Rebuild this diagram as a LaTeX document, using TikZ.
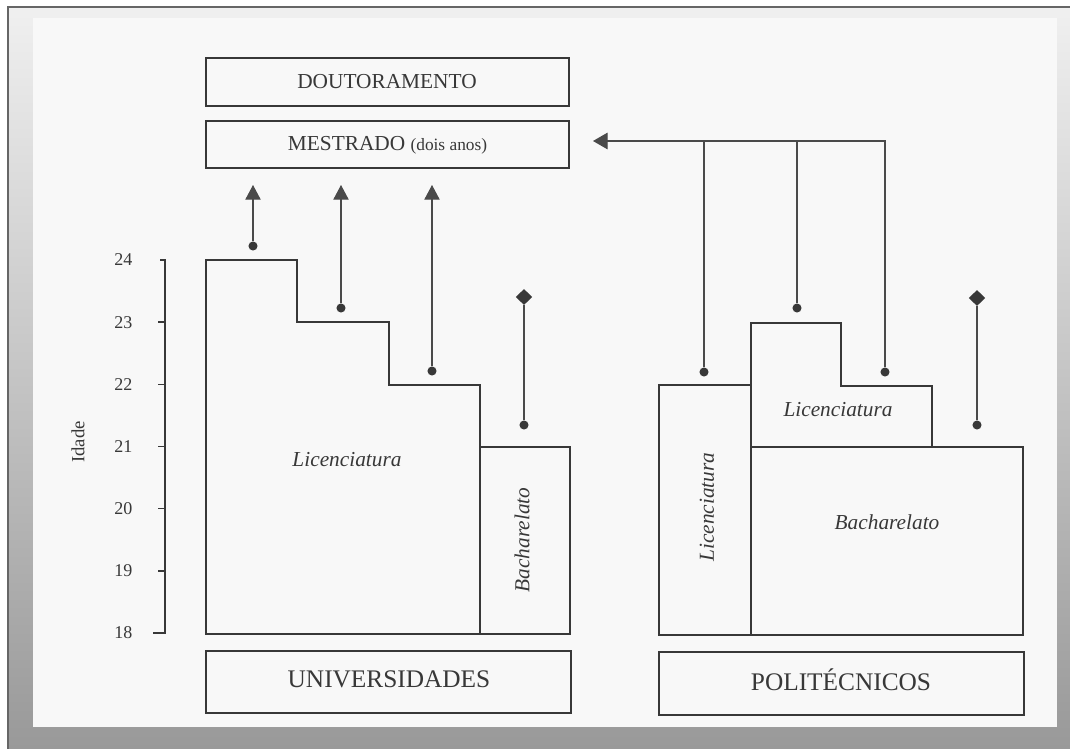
\documentclass[tikz,border=0pt]{standalone}
\usepackage{fontspec}
\setmainfont{Liberation Serif}
\usetikzlibrary{arrows.meta,shapes.geometric}

\definecolor{ink}{HTML}{383838}
\definecolor{wire}{HTML}{4A4A4A}
\definecolor{paper}{HTML}{F8F8F8}
\definecolor{rim}{HTML}{666666}

\tikzset{
  boxline/.style={draw=ink, line width=1.4pt, line join=miter},
  conn/.style={draw=wire, line width=0.8pt},
  uparrow/.style={conn, -{Triangle[width=11.5pt,length=11pt]}},
  dot/.style={circle, fill=ink, inner sep=0pt, minimum size=6.8pt},
  gem/.style={diamond, fill=ink, inner sep=0pt, minimum width=12.5pt, minimum height=12pt},
  caps/.style={text=ink, font=\fontsize{16}{18}\selectfont},
  bigcaps/.style={text=ink, font=\fontsize{19}{22}\selectfont},
  course/.style={text=ink, font=\fontsize{16}{18}\selectfont\itshape},
  agelabel/.style={text=ink, font=\fontsize{13.5}{15}\selectfont, anchor=east},
}

\begin{document}
\begin{tikzpicture}[x=0.75pt,y=-0.75pt]
\useasboundingbox (0,0) rectangle (1070,749);

% surround: white margin, grey gradient and a dark rim on top and left
\fill[white] (0,0) rectangle (1070,749);
\shade[top color=white!94!black, bottom color=black!40] (8,7) rectangle (1070,749);
\draw[rim, line width=1.5pt] (8,749) -- (8,7) -- (1070,7);
\fill[paper] (33,18) rectangle (1057,727);

% upper boxes
\draw[boxline] (206,58) rectangle (569,106);
\node[caps] (dout) at (387,82) {DOUTORAMENTO};
\draw[boxline] (206,121) rectangle (569,168);
\node[caps] (mest) at (387.5,145) {MESTRADO {\fontsize{13}{15}\selectfont (dois anos)}};

% age axis
\draw[ink, line width=1.1pt] (160,260) -- (165,260) -- (165,633) -- (153,633);
\foreach \a in {19,...,23} {
  \draw[ink, line width=1.1pt] (165,{260+(24-\a)*62.17}) -- (158,{260+(24-\a)*62.17});
}
\foreach \a in {18,...,24} {
  \node[agelabel] (age\a) at (137,{260+(24-\a)*62.17}) {\a};
}
\node[text=ink, font=\fontsize{14}{16}\selectfont, rotate=90] (idade) at (78,442) {Idade};

% universities: stepped Licenciatura and Bacharelato block
\draw[boxline] (206,634) -- (206,260) -- (297,260) -- (297,322) -- (389,322)
  -- (389,385) -- (480,385) -- (480,634) -- cycle;
\draw[boxline] (480,447) rectangle (570,634);
\node[course] (ulic) at (347,460) {Licenciatura};
\node[course, rotate=90] (ubac) at (522,540) {Bacharelato};

\draw[boxline] (206,651) rectangle (571,713);
\node[bigcaps] (univ) at (389,679) {UNIVERSIDADES};

% universities: exits towards the master's degree
\node[dot] (ud1) at (253,246) {};
\node[dot] (ud2) at (341,308) {};
\node[dot] (ud3) at (432,371) {};
\coordinate (ut1) at (253,185);
\coordinate (ut2) at (341,185);
\coordinate (ut3) at (432,185);
\draw[uparrow] (ud1) -- (ut1);
\draw[uparrow] (ud2) -- (ut2);
\draw[uparrow] (ud3) -- (ut3);
\node[gem] (ug) at (524,297) {};
\node[dot] (ud4) at (524,425) {};
\draw[conn] (ud4) -- (ug);

% polytechnics: Licenciatura column, stepped Licenciatura and Bacharelato block
\draw[boxline] (659,385) rectangle (751,635);
\draw[boxline] (751,447) -- (751,323) -- (841,323) -- (841,386) -- (932,386) -- (932,447);
\draw[boxline] (751,447) rectangle (1023,635);
\node[course, rotate=90] (plic1) at (707,507) {Licenciatura};
\node[course] (plic2) at (838,410) {Licenciatura};
\node[course] (pbac) at (887,522) {Bacharelato};

\draw[boxline] (659,652) rectangle (1024,715);
\node[bigcaps] (poli) at (841,680) {POLITÉCNICOS};

% polytechnics: exits joined into one arrow towards the master's degree
\node[dot] (pd1) at (704,372) {};
\node[dot] (pd2) at (797,308) {};
\node[dot] (pd3) at (885,372) {};
\coordinate (pj1) at (704,141);
\coordinate (pj2) at (797,141);
\coordinate (pj3) at (885,141);
\coordinate (ptip) at (593,141);
\draw[conn] (pd1) -- (pj1);
\draw[conn] (pd2) -- (pj2);
\draw[conn, -{Triangle[width=12.5pt,length=11pt]}] (pd3) -- (pj3) -- (ptip);
\node[gem] (pg) at (977,298) {};
\node[dot] (pd4) at (977,425) {};
\draw[conn] (pd4) -- (pg);
\end{tikzpicture}
\end{document}
